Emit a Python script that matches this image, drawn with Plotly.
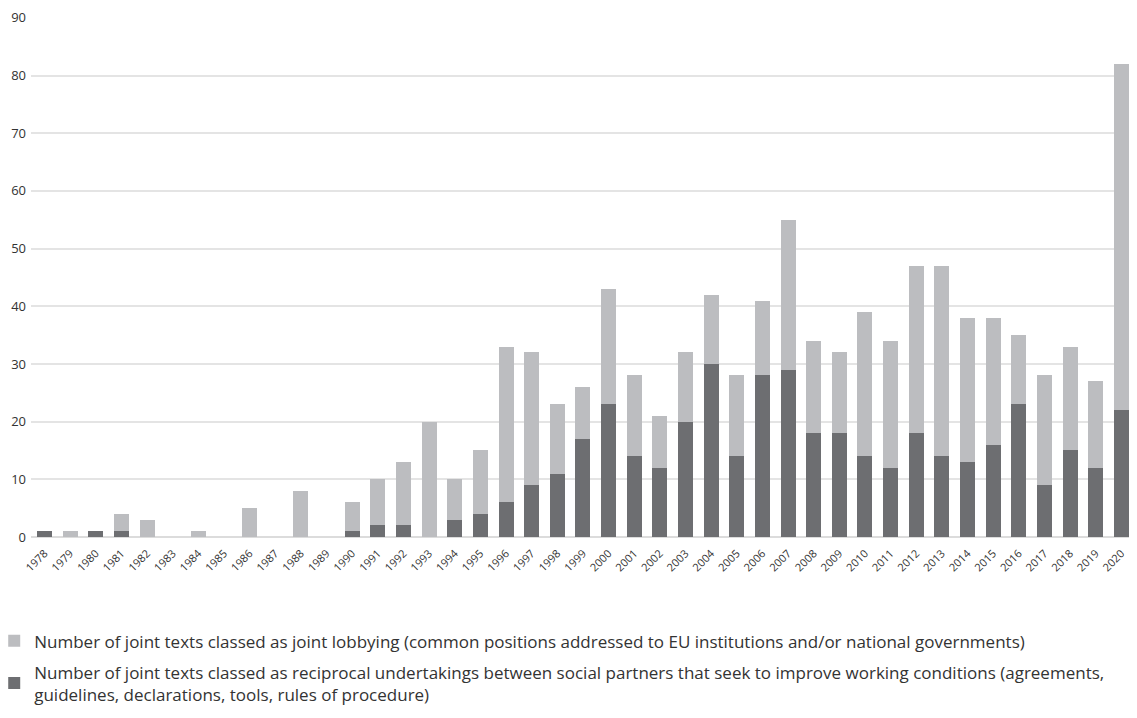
import plotly.graph_objects as go

years = [str(y) for y in range(1978, 2021)]
reciprocal = [1, 0, 1, 1, 0, 0, 0, 0, 0, 0, 0, 0, 1, 2, 2, 0, 3, 4, 6, 9, 11, 17, 23, 14, 12, 20,
              30, 14, 28, 29, 18, 18, 14, 12, 18, 14, 13, 16, 23, 9, 15, 12, 22]
lobbying = [0, 1, 0, 3, 3, 0, 1, 0, 5, 0, 8, 0, 5, 8, 11, 20, 7, 11, 27, 23, 12, 9, 20, 14, 9, 12,
            12, 14, 13, 26, 16, 14, 25, 22, 29, 33, 25, 22, 12, 19, 18, 15, 60]
y_ticks = [0, 10, 20, 30, 40, 50, 60, 70, 80, 90]

name_lobby = "Number of joint texts classed as joint lobbying (common positions addressed to EU institutions and/or national governments)"
name_recip = ("Number of joint texts classed as reciprocal undertakings between social partners that seek to improve working conditions (agreements,"
              "<br>guidelines, declarations, tools, rules of procedure)")

LIGHT = "#bcbdc0"
DARK = "#6d6e71"

fig = go.Figure()
fig.add_trace(go.Bar(x=years, y=reciprocal, name=name_recip, marker_color=DARK,
                     marker_line_width=0, legendgroup="b", legendrank=2))
fig.add_trace(go.Bar(x=years, y=lobbying, name=name_lobby, marker_color=LIGHT,
                     marker_line_width=0, legendgroup="a", legendrank=1))

# page body has an 8px margin, so the figure is sized to fit inside the window
fig.update_layout(
    width=1121, height=702,
    barmode="stack", bargap=0.415,
    plot_bgcolor="white", paper_bgcolor="white",
    margin=dict(l=23, r=0, t=9, b=173, autoexpand=False),
    font=dict(family="Open Sans, Lato, sans-serif", color="#333333"),
    xaxis=dict(range=[-0.527, 42.297], tickangle=-45, tickfont=dict(size=11, color="#333333"),
               showgrid=False, showline=False, ticks="", automargin=False, ticklabelstandoff=7),
    yaxis=dict(range=[0, 90.15], tickvals=y_ticks, showgrid=True, gridcolor="#e4e4e4", gridwidth=1.5,
               zeroline=True, zerolinecolor="#dcdcdc", zerolinewidth=1.5,
               tickfont=dict(size=13, color="#333333"), ticks="", ticklabelstandoff=4,
               automargin=False),
    showlegend=True,
    legend=dict(x=-0.0335, y=-0.166, xanchor="left", yanchor="top",
                orientation="v", traceorder="grouped", font=dict(size=17, color="#333333"),
                tracegroupgap=6, bgcolor="rgba(0,0,0,0)", maxheight=200, itemwidth=30),
)

fig.write_html("out.html")
